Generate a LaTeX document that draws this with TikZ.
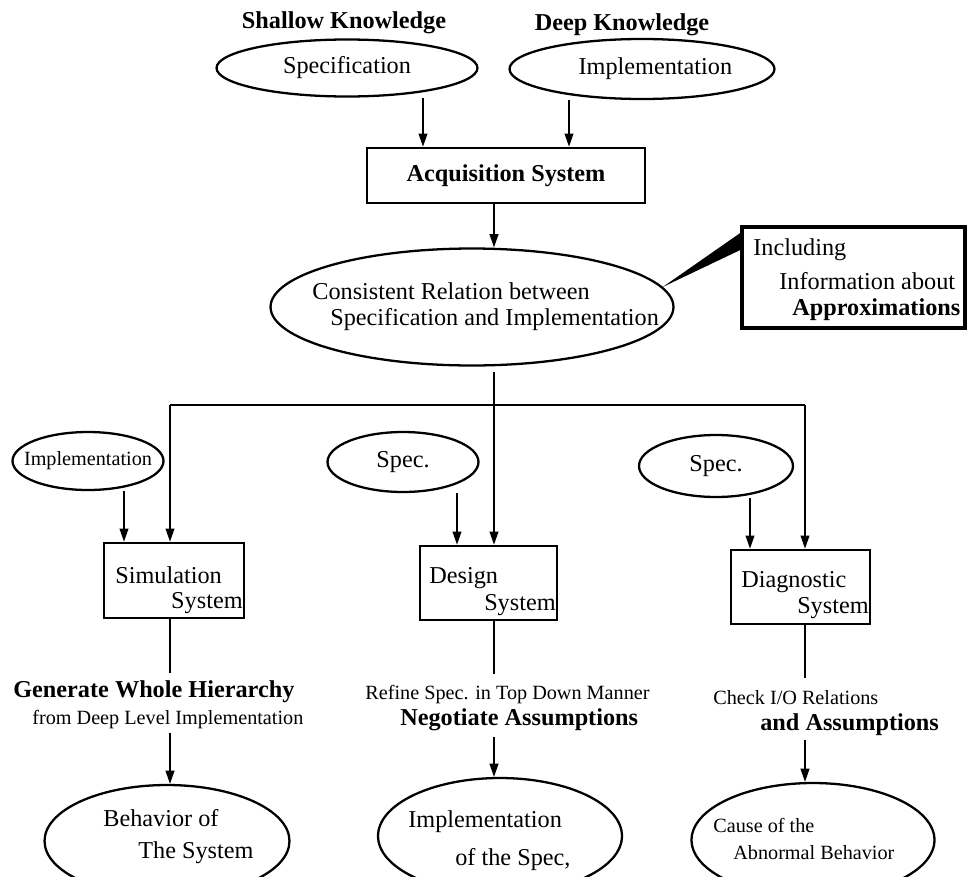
\documentclass[tikz,border=0pt]{standalone}
\usepackage{fontspec}
\setmainfont{Liberation Serif}
\usetikzlibrary{arrows.meta,shapes.geometric,calc}

\begin{document}
\begin{tikzpicture}[x=0.02cm, y=-0.02cm,
    oval/.style = {draw, ellipse, line width=1.3pt, inner sep=0pt, font=\fontsize{13.8}{15}\selectfont},
    sys/.style = {draw, rectangle, line width=1.5pt, inner sep=0pt},
    txt/.style = {inner sep=0pt, font=\fontsize{13.8}{15}\selectfont},
    txtb/.style = {inner sep=0pt, font=\fontsize{13.8}{15}\selectfont\bfseries},
    txts/.style = {inner sep=0pt, font=\fontsize{11.5}{12}\selectfont},
    flow/.style = {-{Triangle[length=7.5pt, width=5pt]}, line width=0.9pt},
    link/.style = {line width=0.9pt}]
            \useasboundingbox (0,0) rectangle (967,876);
            \clip (0,0) rectangle (967,876);

            % Niveau du haut
            \node[txtb] (shallow) at (344,23) {Shallow Knowledge};
            \node[txtb] (deep) at (622,25) {Deep Knowledge};
            \node[oval, minimum width=5.22cm, minimum height=1.14cm] (specTop) at (347,68) {Specification};
            \node[oval, minimum width=5.3cm, minimum height=1.2cm] (implTop) at (642,69) {\hspace{1.1em}Implementation};
            \node[sys, txtb, minimum width=5.56cm, minimum height=1.1cm] (acq) at (506,175.5) {Acquisition System};

            \node[oval, minimum width=8.06cm, minimum height=2.34cm] (cons) at (472,307) {};
            \node[txt, anchor=west] (consA) at (312,291) {Consistent Relation between};
            \node[txt, anchor=west] (consB) at (330,320) {Specification and Implementation};

            \node[sys, line width=2.2pt, minimum width=4.46cm, minimum height=2.02cm] (note) at (853.5,277.5) {};
            \node[txt, anchor=west] (noteA) at (753,250) {Including};
            \node[txt, anchor=west] (noteB) at (779,281) {Information about};
            \node[txtb, anchor=west] (noteC) at (792,310) {Approximations};

            % Colonnes
            \coordinate (split) at (494,405);
            \coordinate (busL) at (170,405);
            \coordinate (busR) at (805,405);
            \coordinate (inSpec) at (423,0);
            \coordinate (inImpl) at (569,0);
            \coordinate (inSim) at (124,0);
            \coordinate (inDes) at (457,0);
            \coordinate (inDia) at (750,0);

            % Entrées
            \node[oval, minimum width=3.02cm, minimum height=1.16cm] (implLow) at (88,461) {};
            \node[txts] (implLowT) at (implLow) {Implementation};
            \node[oval, minimum width=3.02cm, minimum height=1.2cm] (specMid) at (403,462) {Spec.};
            \node[oval, minimum width=3.08cm, minimum height=1.24cm] (specRight) at (716,466) {Spec.};

            % Systèmes
            \node[sys, minimum width=2.8cm, minimum height=1.5cm] (sim) at (174,580.5) {};
            \node[txt, anchor=west] (simA) at (115,575) {Simulation};
            \node[txt, anchor=east] (simB) at (243,603) {System};
            \node[sys, minimum width=2.74cm, minimum height=1.48cm] (des) at (488.5,583) {};
            \node[txt, anchor=west] (desA) at (429,578) {Design};
            \node[txt, anchor=east] (desB) at (556,605) {System};
            \node[sys, minimum width=2.78cm, minimum height=1.48cm] (dia) at (800.5,587) {};
            \node[txt, anchor=west] (diaA) at (741,582) {Diagnostic};
            \node[txt, anchor=east] (diaB) at (869,608) {System};

            % Tâches
            \node[txtb, anchor=west] (genA) at (13,692) {Generate Whole Hierarchy};
            \node[txts, anchor=west] (genB) at (32,720) {from Deep Level Implementation};
            \node[txts, anchor=west] (refA) at (365,695) {Refine Spec. in Top Down Manner};
            \node[txtb, anchor=west] (refB) at (400,720) {Negotiate Assumptions};
            \node[txts, anchor=west] (chkA) at (713,698) {Check I/O Relations};
            \node[txtb, anchor=west] (chkB) at (760,725) {and Assumptions};

            % Résultats
            \node[oval, minimum width=4.9cm, minimum height=2.24cm] (behav) at (167,841) {};
            \node[txt, anchor=west] (behavA) at (103,818) {Behavior of};
            \node[txt, anchor=west] (behavB) at (138,853) {The System};
            \node[oval, minimum width=4.88cm, minimum height=2.32cm] (implSpec) at (500,836) {};
            \node[txt, anchor=west] (implSpecA) at (408,822) {Implementation};
            \node[txt, anchor=west] (implSpecB) at (455,860) {of the Spec,};
            \node[oval, minimum width=4.86cm, minimum height=2.28cm] (cause) at (813,840) {};
            \node[txts, anchor=west] (causeA) at (713,825) {Cause of the};
            \node[txts, anchor=west] (causeB) at (733,853) {Abnormal Behavior};

            % Flèches
            \draw[flow] (specTop.south -| inSpec) -- (acq.north -| inSpec);
            \draw[flow] (implTop.south -| inImpl) -- (acq.north -| inImpl);
            \draw[flow] (acq.south -| split) -- (cons.north -| split);
            \fill (cons.6) -- ($(note.north west)+(0,8)$) -- ($(note.north west)+(0,25)$) -- cycle;
            \draw[link, shorten <=3pt] (cons.south -| split) -- (split);
            \draw[link] (busL) -- (busR);
            \draw[flow] (busL) -- (sim.north -| busL);
            \draw[flow] (split) -- (des.north -| split);
            \draw[flow] (busR) -- (dia.north -| busR);
            \draw[flow] (implLow.south -| inSim) -- (sim.north -| inSim);
            \draw[flow] (specMid.south -| inDes) -- (des.north -| inDes);
            \draw[flow] (specRight.south -| inDia) -- (dia.north -| inDia);
            \draw[link] (sim.south -| busL) -- ++(0,54);
            \draw[link] (des.south -| split) -- ++(0,53);
            \draw[link] (dia.south -| busR) -- ++(0,53);
            \draw[flow, shorten <=2pt] (genB.south -| busL) -- (behav.north -| busL);
            \draw[flow, shorten <=3pt] (refB.south -| split) -- (implSpec.north -| split);
            \draw[flow, shorten <=2pt] (chkB.south -| busR) -- (cause.north -| busR);
        \end{tikzpicture}
\end{document}
